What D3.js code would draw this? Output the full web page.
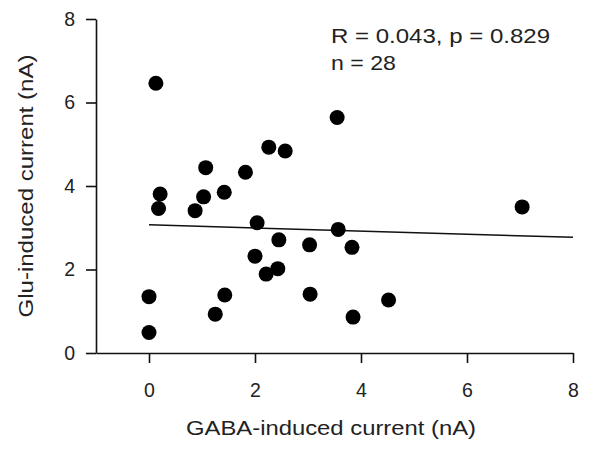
<!DOCTYPE html>
<html>
<head>
<meta charset="utf-8">
<script src="https://cdn.jsdelivr.net/npm/d3@7"></script>
<style>
  body { margin: 0; background: #fff; }
  svg { display: block; font-family: "Liberation Sans", Arial, sans-serif; }
</style>
</head>
<body>
<svg id="chart" width="600" height="455"></svg>
<script>
// values
const gaba = [0.13, 2.26, 2.57, 1.07, 1.82, 0.21, 1.03, 1.42, 0.18, 0.87, 2.04,
              0.00, 0.00, 1.43, 1.25, 2.00, 2.45, 2.21, 2.43, 3.55, 3.57, 3.03,
              3.83, 3.04, 4.52, 3.85, 7.04];
const glu  = [6.46, 4.93, 4.84, 4.44, 4.33, 3.81, 3.74, 3.85, 3.46, 3.41, 3.12,
              1.35, 0.49, 1.39, 0.93, 2.32, 2.71, 1.89, 2.02, 5.64, 2.96, 2.59,
              2.53, 1.41, 1.27, 0.86, 3.50];
const fitX = [0, 8];
const fitY = [3.07, 2.77];
const xTicks = [0, 2, 4, 6, 8];
const yTicks = [0, 2, 4, 6, 8];
const statLines = ["R = 0.043, p = 0.829", "n = 28"];

const svg = d3.select("#chart");

const x = d3.scaleLinear().domain([-1, 8]).range([96, 573]);
const y = d3.scaleLinear().domain([0, 8]).range([353, 19]);

// axes
const xAxis = svg.append("g")
  .attr("transform", `translate(0,${y(0)})`)
  .call(d3.axisBottom(x).tickValues(xTicks).tickSize(10).tickSizeOuter(0).tickPadding(20));

const yAxis = svg.append("g")
  .attr("transform", `translate(${x(-1)},0)`)
  .call(d3.axisLeft(y).tickValues(yTicks).tickSize(10).tickSizeOuter(0).tickPadding(11));

[xAxis, yAxis].forEach(g => {
  g.selectAll("path, line").attr("stroke", "#111").attr("stroke-width", 1.6);
  g.selectAll("text")
    .attr("fill", "#222")
    .style("font-size", "19.5px")
    .style("font-family", "'Liberation Sans', Arial, sans-serif");
});

// regression line
svg.append("line")
  .attr("x1", x(fitX[0])).attr("y1", y(fitY[0]))
  .attr("x2", x(fitX[1])).attr("y2", y(fitY[1]))
  .attr("stroke", "#111")
  .attr("stroke-width", 1.5);

// points
svg.append("g")
  .selectAll("circle")
  .data(gaba.map((g, i) => [g, glu[i]]))
  .join("circle")
    .attr("cx", d => x(d[0]))
    .attr("cy", d => y(d[1]))
    .attr("r", 7.5)
    .attr("fill", "#000");

// stats text
svg.append("text")
  .attr("x", 331).attr("y", 43)
  .attr("textLength", 219).attr("lengthAdjust", "spacingAndGlyphs")
  .style("font-size", "21px").attr("fill", "#222")
  .text(statLines[0]);
svg.append("text")
  .attr("x", 331).attr("y", 70)
  .attr("textLength", 65).attr("lengthAdjust", "spacingAndGlyphs")
  .style("font-size", "21px").attr("fill", "#222")
  .text(statLines[1]);

// axis titles
svg.append("text")
  .attr("x", 331).attr("y", 435)
  .attr("text-anchor", "middle")
  .attr("textLength", 290).attr("lengthAdjust", "spacingAndGlyphs")
  .style("font-size", "21px").attr("fill", "#222")
  .text("GABA-induced current (nA)");

svg.append("text")
  .attr("transform", "translate(33,186) rotate(-90)")
  .attr("text-anchor", "middle")
  .attr("textLength", 263).attr("lengthAdjust", "spacingAndGlyphs")
  .style("font-size", "21px").attr("fill", "#222")
  .text("Glu-induced current (nA)");
</script>
</body>
</html>
